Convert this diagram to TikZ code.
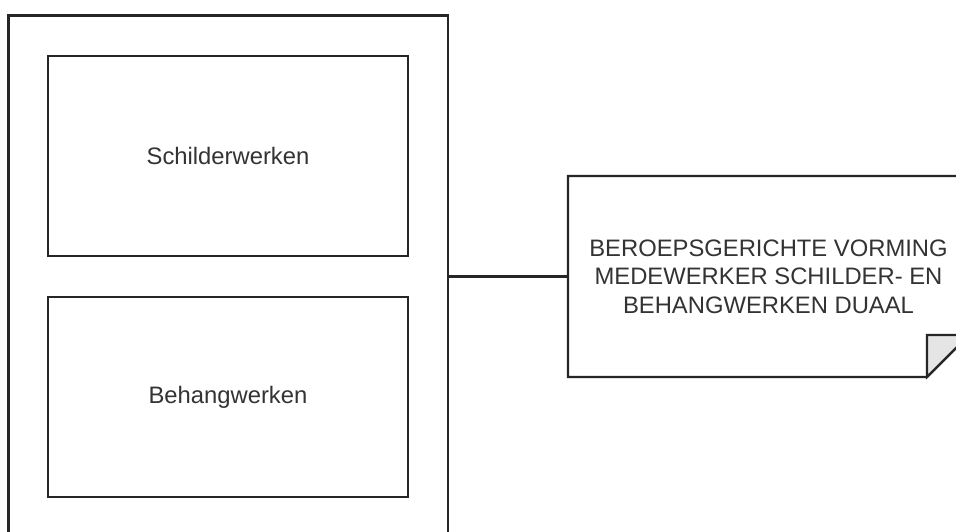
\documentclass[tikz,border=0pt]{standalone}
\usepackage{fontspec}
\setmainfont{Liberation Sans}
\begin{document}
\begin{tikzpicture}[x=1pt,y=-1pt,
  every node/.style={inner sep=0pt, outer sep=0pt, font=\fontsize{23.8}{28.6}\selectfont, text=black!80},
  box/.style={draw=black!85, line width=2.2pt, minimum width=360pt, minimum height=200pt},
  ln/.style={draw=black!85, line width=2.2pt}]
\clip (0,0) rectangle (956,532);
\fill[white] (0,0) rectangle (956,532);
\node[ln, minimum width=439.5pt, minimum height=540pt, anchor=north west] (outer) at (8.5,15.5) {};
\node[box, anchor=north west] (schilder) at (48,56) {Schilderwerken};
\node[box, anchor=north west] (behang) at (48,297) {Behangwerken};
\node[minimum width=401pt, minimum height=201pt, anchor=north west, align=center] (note) at (568,176)
  {BEROEPSGERICHTE VORMING\\MEDEWERKER SCHILDER- EN\\BEHANGWERKEN DUAAL};
\draw[ln, line join=miter] (note.north west) -- (note.north east) -- ([yshift=42pt]note.south east)
  -- ([xshift=-42pt]note.south east) -- (note.south west) -- cycle;
\draw[ln, fill=black!10, line join=miter] ([xshift=-42pt]note.south east) -- ([xshift=-42pt,yshift=42pt]note.south east)
  -- ([yshift=42pt]note.south east) -- cycle;
\draw[ln] (outer.east |- note.west) -- (note.west);
\end{tikzpicture}
\end{document}
